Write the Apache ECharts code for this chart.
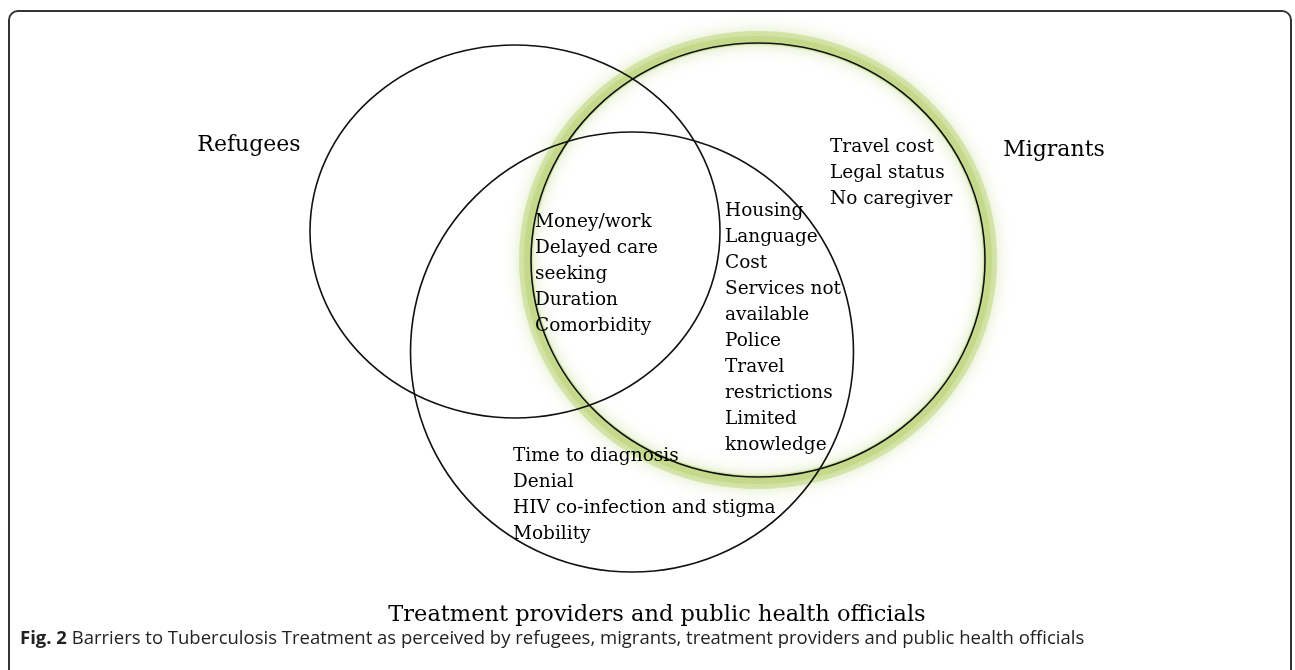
<!DOCTYPE html>
<html><head><meta charset="utf-8">
<script src="https://cdn.jsdelivr.net/npm/echarts@6/dist/echarts.min.js"></script>
<style>html,body{margin:0;padding:0;background:#fff}#main{width:1295px;height:670px}</style>
</head><body><div id="main"></div>
<script>
// Sets of the Venn diagram
const setNames = ['Refugees', 'Migrants', 'Treatment providers and public health officials'];
const setCenterX = [515, 758, 632];
const setCenterY = [231.5, 260, 352];
const setRadiusX = [205, 227, 221.5];
const setRadiusY = [186.5, 217, 220];
const setHighlighted = [0, 1, 0];
const setLabelX = [249, 1054, 657];
const setLabelY = [145, 150, 615];

// Barriers listed in each region
const regionItems = [
  ['Money/work', 'Delayed care', 'seeking', 'Duration', 'Comorbidity'],
  ['Housing', 'Language', 'Cost', 'Services not', 'available', 'Police', 'Travel', 'restrictions', 'Limited', 'knowledge'],
  ['Travel cost', 'Legal status', 'No caregiver'],
  ['Time to diagnosis', 'Denial', 'HIV co-infection and stigma', 'Mobility']
];
const regionX = [535, 725, 830, 513];
const regionY = [222, 211, 147, 456];

const caption = 'Barriers to Tuberculosis Treatment as perceived by refugees, migrants, treatment providers and public health officials';

const SERIF = '"DejaVu Serif", serif';
const LINE_H = 26;

const circleData = setNames.map((n, i) => [setCenterX[i], setCenterY[i], setRadiusX[i], setRadiusY[i], setHighlighted[i]]);
const regionData = regionItems.map((it, i) => [regionX[i], regionY[i], i]);
const nameData = setNames.map((n, i) => [setLabelX[i], setLabelY[i], i]);

const chart = echarts.init(document.getElementById('main'), null, {renderer: 'canvas'});
chart.setOption({
  backgroundColor: '#fff',
  animation: false,
  grid: {left: 0, right: 0, top: 0, bottom: 0},
  xAxis: {type: 'value', min: 0, max: 1295, show: false},
  yAxis: {type: 'value', min: 0, max: 670, inverse: true, show: false},
  graphic: [
    {type: 'rect', z: 1, shape: {x: 9, y: 11, width: 1282, height: 700, r: 9},
      style: {fill: null, stroke: '#333', lineWidth: 2}},
    {type: 'text', z: 1, left: 20, top: 629,
      style: {text: '{b|Fig. 2} ' + caption, fill: '#222',
        fontFamily: '"Open Sans", sans-serif', fontSize: 18.5,
        rich: {b: {fontWeight: 'bold', fontFamily: '"Open Sans", sans-serif', fontSize: 18.5, fill: '#222'}}}}
  ],
  series: [
    {
      type: 'custom', z: 1, silent: true, data: circleData,
      renderItem: function (params, api) {
        if (!api.value(4)) return {type: 'group', children: []};
        const c = api.coord([api.value(0), api.value(1)]);
        const s = api.size([api.value(2), api.value(3)]);
        return {type: 'group', children: [
          {type: 'ellipse', shape: {cx: c[0], cy: c[1], rx: s[0] + 5, ry: s[1] + 5},
            style: {fill: null, stroke: 'rgba(185,210,110,0.45)', lineWidth: 14,
              shadowBlur: 16, shadowColor: 'rgba(170,200,90,0.8)'}},
          {type: 'ellipse', shape: {cx: c[0], cy: c[1], rx: s[0] + 4, ry: s[1] + 4},
            style: {fill: null, stroke: 'rgba(175,204,95,0.35)', lineWidth: 6,
              shadowBlur: 8, shadowColor: 'rgba(170,200,90,0.6)'}}
        ]};
      }
    },
    {
      type: 'custom', z: 2, silent: true, data: circleData,
      renderItem: function (params, api) {
        const c = api.coord([api.value(0), api.value(1)]);
        const s = api.size([api.value(2), api.value(3)]);
        return {type: 'ellipse', shape: {cx: c[0], cy: c[1], rx: s[0], ry: s[1]},
          style: {fill: null, stroke: '#111', lineWidth: 1.6}};
      }
    },
    {
      type: 'custom', z: 3, silent: true, data: regionData,
      renderItem: function (params, api) {
        const c = api.coord([api.value(0), api.value(1)]);
        const lines = regionItems[api.value(2)];
        return {type: 'text', x: c[0], y: c[1] - LINE_H / 2,
          style: {text: lines.join('\n'), fontFamily: SERIF, fontSize: 18.5, lineHeight: LINE_H,
            align: 'left', verticalAlign: 'top', fill: '#000'}};
      }
    },
    {
      type: 'custom', z: 3, silent: true, data: nameData,
      renderItem: function (params, api) {
        const c = api.coord([api.value(0), api.value(1)]);
        return {type: 'text', x: c[0], y: c[1],
          style: {text: setNames[api.value(2)], fontFamily: SERIF,
            fontSize: api.value(2) === 2 ? 22.5 : 22,
            align: 'center', verticalAlign: 'middle', fill: '#000'}};
      }
    }
  ]
});
</script>
</body></html>
